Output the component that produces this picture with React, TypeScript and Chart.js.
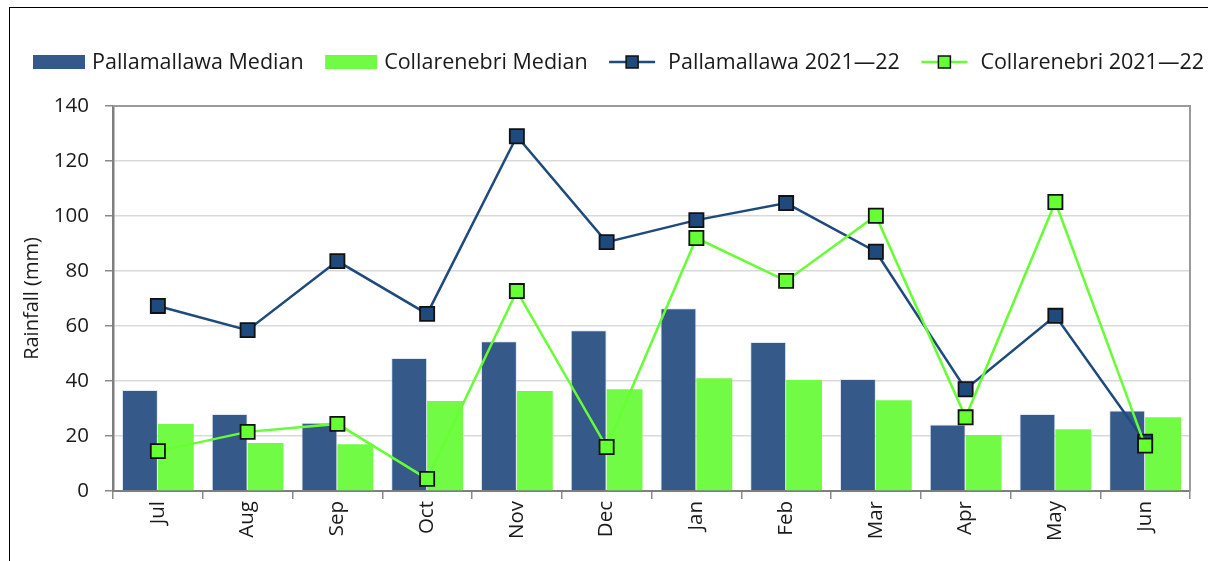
import React, { useEffect, useRef } from "react";
import { Chart, registerables } from "chart.js";

Chart.register(...registerables);

const months = ["Jul", "Aug", "Sep", "Oct", "Nov", "Dec", "Jan", "Feb", "Mar", "Apr", "May", "Jun"];
const pallamallawaMedian = [36.7, 28, 24.8, 48.4, 54.5, 58.5, 66.5, 54.2, 40.7, 24.2, 28, 29.3];
const collarenebriMedian = [24.4, 17.5, 17, 32.7, 36.4, 37, 41, 40.4, 33, 20.4, 22.5, 26.8];
const pallamallawa2122 = [67.3, 58.5, 83.6, 64.4, 129, 90.5, 98.5, 104.7, 87, 37, 63.7, 17.9];
const collarenebri2122 = [14.5, 21.5, 24.4, 4.4, 72.7, 16, 92, 76.4, 100.1, 26.8, 105.1, 16.5];
const yTicks = [0, 20, 40, 60, 80, 100, 120, 140];

const BLUE_BAR = "#355a89";
const GREEN_BAR = "#72fb44";
const BLUE_LINE = "#1f4a7d";
const GREEN_LINE = "#66ff33";
const FONT = "'Open Sans', sans-serif";

const legendPlugin = {
  id: "customLegend",
  afterDraw(chart: any) {
    const ctx = chart.ctx as CanvasRenderingContext2D;
    const items = chart.data.datasets.map((d: any) => ({
      label: d.label,
      type: d.type,
      color: d.type === "line" ? d.borderColor : d.backgroundColor,
      fill: d.pointBackgroundColor,
    }));
    ctx.save();
    ctx.font = `21.5px ${FONT}`;
    const symW = 52;
    const symGap = 7;
    const startX = 33;
    const endX = 1204;
    const y = 62;
    const widths = items.map((it: any) => ctx.measureText(it.label).width);
    const total = widths.reduce((a: number, b: number) => a + b, 0) + items.length * (symW + symGap);
    const gap = (endX - startX - total) / (items.length - 1);
    let x = startX;
    items.forEach((it: any, i: number) => {
      if (it.type === "line") {
        ctx.strokeStyle = it.color;
        ctx.lineWidth = 2.5;
        ctx.beginPath();
        ctx.moveTo(x, y);
        ctx.lineTo(x + symW - 6, y);
        ctx.stroke();
        const cx = x + (symW - 6) / 2;
        ctx.fillStyle = it.fill;
        ctx.fillRect(cx - 6, y - 6, 12, 12);
        ctx.strokeStyle = "#111";
        ctx.lineWidth = 1.5;
        ctx.strokeRect(cx - 6, y - 6, 12, 12);
      } else {
        ctx.fillStyle = it.color;
        ctx.fillRect(x, y - 7, symW, 14);
      }
      ctx.fillStyle = "#1a1a1a";
      ctx.textBaseline = "middle";
      ctx.textAlign = "left";
      ctx.fillText(it.label, x + symW + symGap, y + 1);
      x += symW + symGap + widths[i] + gap;
    });
    ctx.restore();
  },
};

const framePlugin = {
  id: "plotFrame",
  beforeDatasetsDraw(chart: any) {
    const { ctx, chartArea } = chart;
    ctx.save();
    ctx.strokeStyle = "#9a9a9a";
    ctx.lineWidth = 2;
    ctx.beginPath();
    ctx.moveTo(chartArea.left, chartArea.top);
    ctx.lineTo(chartArea.right, chartArea.top);
    ctx.lineTo(chartArea.right, chartArea.bottom);
    ctx.stroke();
    ctx.restore();
  },
};

export default function App() {
  const ref = useRef<HTMLCanvasElement>(null);
  useEffect(() => {
    if (!ref.current) return;
    const chart = new Chart(ref.current, {
      type: "bar",
      data: {
        labels: months,
        datasets: [
          {
            type: "bar",
            label: "Pallamallawa Median",
            data: pallamallawaMedian,
            backgroundColor: BLUE_BAR,
            borderColor: "rgba(200,215,235,0.6)",
            borderWidth: 1,
            categoryPercentage: 0.8,
            barPercentage: 1.0,
            order: 2,
          },
          {
            type: "bar",
            label: "Collarenebri Median",
            data: collarenebriMedian,
            backgroundColor: GREEN_BAR,
            borderWidth: 0,
            categoryPercentage: 0.8,
            barPercentage: 1.0,
            order: 3,
          },
          {
            type: "line",
            label: "Pallamallawa 2021\u201422",
            data: pallamallawa2122,
            borderColor: BLUE_LINE,
            backgroundColor: BLUE_LINE,
            pointBackgroundColor: BLUE_LINE,
            pointBorderColor: "#111",
            pointBorderWidth: 1.8,
            pointStyle: "rect",
            pointRadius: 10,
            borderWidth: 2.5,
            tension: 0,
            order: 1,
          },
          {
            type: "line",
            label: "Collarenebri 2021\u201422",
            data: collarenebri2122,
            borderColor: GREEN_LINE,
            backgroundColor: GREEN_LINE,
            pointBackgroundColor: GREEN_LINE,
            pointBorderColor: "#111",
            pointBorderWidth: 1.8,
            pointStyle: "rect",
            pointRadius: 10,
            borderWidth: 2.5,
            tension: 0,
            order: 0,
          },
        ] as any,
      },
      options: {
        animation: false,
        responsive: false,
        maintainAspectRatio: false,
        layout: { padding: { top: 106, right: 18, left: 0, bottom: 0 } },
        plugins: {
          legend: { display: false },
          tooltip: { enabled: false },
        },
        scales: {
          x: {
            offset: true,
            grid: {
              display: true,
              offset: true,
              drawOnChartArea: false,
              drawTicks: true,
              tickLength: 8,
              tickColor: "#8a8a8a",
              lineWidth: 1.5,
            },
            border: { display: true, color: "#7f7f7f", width: 2 },
            ticks: {
              color: "#1a1a1a",
              font: { family: FONT, size: 20.5 },
              minRotation: 90,
              maxRotation: 90,
              padding: 2,
              autoSkip: false,
            },
            afterFit: (scale: any) => {
              scale.height = 70;
            },
          },
          y: {
            min: 0,
            max: 140,
            afterBuildTicks: (scale: any) => {
              scale.ticks = yTicks.map((v) => ({ value: v }));
            },
            grid: {
              color: "#d9d9d9",
              lineWidth: 1.5,
              drawTicks: true,
              tickLength: 8,
              tickColor: "#8a8a8a",
            },
            border: { display: true, color: "#7f7f7f", width: 2.5 },
            ticks: {
              color: "#1a1a1a",
              font: { family: FONT, size: 20.5 },
              padding: 16,
            },
            title: {
              display: true,
              text: "Rainfall (mm)",
              color: "#1a1a1a",
              font: { family: FONT, size: 20 },
              padding: { top: 20, bottom: 0 },
            },
            afterFit: (scale: any) => {
              scale.width = 113;
            },
          },
        },
      },
      plugins: [framePlugin, legendPlugin],
    } as any);
    return () => chart.destroy();
  }, []);

  return (
    <div style={{ position: "fixed", left: 0, top: 0, width: 1208, height: 561, overflow: "hidden", background: "#fff" }}>
      <canvas ref={ref} width={1208} height={561} style={{ position: "absolute", left: 0, top: 0 }} />
      <div
        style={{
          position: "absolute",
          left: 9,
          top: 7,
          width: 1400,
          height: 800,
          border: "1.5px solid #000",
          pointerEvents: "none",
        }}
      />
    </div>
  );
}
